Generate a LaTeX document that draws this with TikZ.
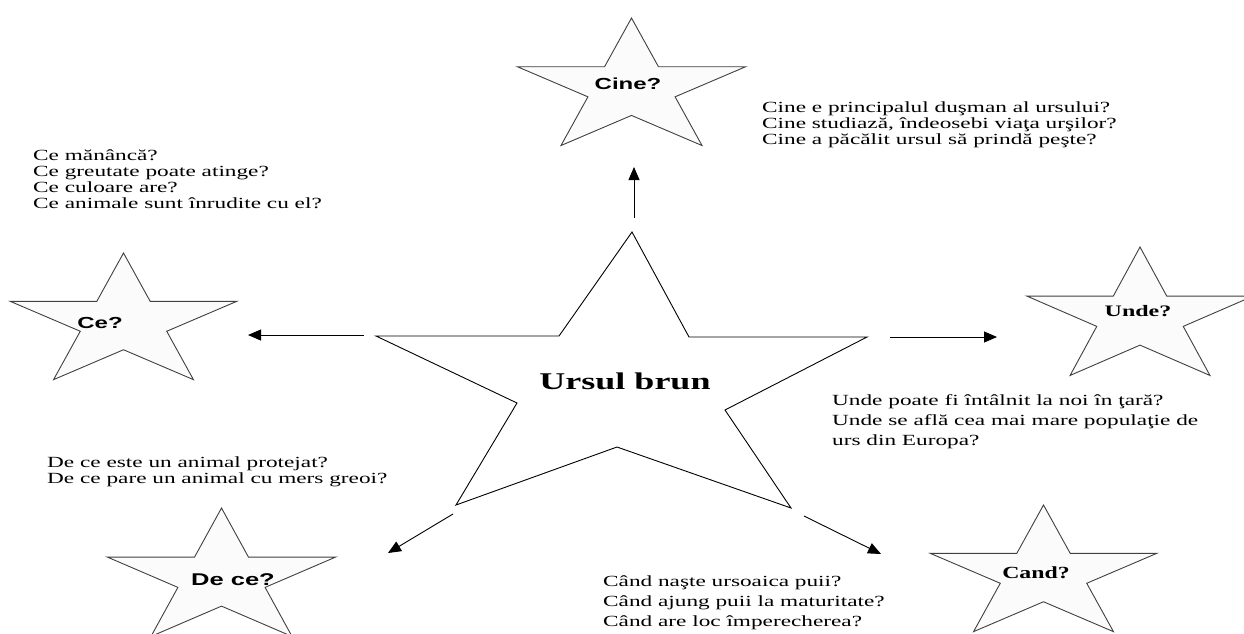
\documentclass[tikz,border=0pt]{standalone}
\usepackage{fontspec}
\setmainfont{Liberation Serif}
\newfontfamily\lsans{Liberation Sans}
\usepackage{graphicx}
\usetikzlibrary{arrows.meta}
\newcommand\sx[1]{\scalebox{1.5}[1]{#1}}
\newcommand\qstar[4]{%
  \begin{scope}[shift={(#1,#2)},xscale=#3,yscale=-#4]
    \draw[starline] (90:1) -- (126:0.382) -- (162:1) -- (198:0.382) -- (234:1)
      -- (270:0.382) -- (306:1) -- (342:0.382) -- (18:1) -- (54:0.382) -- cycle;
  \end{scope}}
\begin{document}
\begin{tikzpicture}[x=1pt,y=-1pt,
  starline/.style={draw=black!75,line width=0.9pt,fill=white!98.5!black},
  mainstar/.style={draw=black,line width=0.9pt,fill=white},
  arr/.style={line width=0.9pt,-{Triangle[length=13pt,width=11pt]}},
  qtext/.style={inner sep=0pt,align=left,font=\fontsize{15.5}{15.7}\selectfont},
  qtextw/.style={inner sep=0pt,align=left,font=\fontsize{15.5}{20}\selectfont},
  sanslbl/.style={inner sep=1pt,font=\lsans\bfseries\fontsize{16}{16}\selectfont},
  seriflbl/.style={inner sep=1pt,font=\bfseries\fontsize{16}{16}\selectfont}]
\useasboundingbox (0,0) rectangle (1244,633);
\clip (0,0) rectangle (1244,633);
\fill[white] (0,0) rectangle (1244,633);

% central star
\draw[mainstar] (632,232) -- (689,337) -- (867,337) -- (725,410) -- (791,508)
  -- (617,447) -- (456,505) -- (517,403) -- (376,336) -- (559,336) -- cycle;
\node[inner sep=1pt,font=\bfseries\fontsize{24}{24}\selectfont] (main) at (625,381) {\sx{Ursul brun}};

% small stars
\qstar{631.5}{88.5}{120}{70.5}
\node[sanslbl] (cine) at (628,84) {\sx{Cine?}};
\qstar{123.5}{323}{119}{70}
\node[sanslbl] (ce) at (100,323) {\sx{Ce?}};
\qstar{1140}{318}{119}{71}
\node[seriflbl] (unde) at (1138,311) {\sx{Unde?}};
\qstar{221.5}{579}{120}{71}
\node[sanslbl,font=\lsans\bfseries\fontsize{17}{17}\selectfont] (dece) at (233,580) {\sx{De ce?}};
\qstar{1043.5}{575}{119}{70}
\node[seriflbl,font=\bfseries\fontsize{17}{17}\selectfont] (cand) at (1036,573) {\scalebox{1.4}[1]{Cand?}};

% arrows
\coordinate (a1s) at (634,218); \coordinate (a1e) at (634,167);
\coordinate (a2s) at (364,335); \coordinate (a2e) at (248,335);
\coordinate (a3s) at (890,337); \coordinate (a3e) at (997,337);
\coordinate (a4s) at (453,514); \coordinate (a4e) at (388,553);
\coordinate (a5s) at (804,516); \coordinate (a5e) at (881,554);
\draw[arr] (a1s) -- (a1e);
\draw[arr] (a2s) -- (a2e);
\draw[arr] (a3s) -- (a3e);
\draw[arr] (a4s) -- (a4e);
\draw[arr] (a5s) -- (a5e);

% question texts
\node[qtext,anchor=north west] (tcine) at (762,102)
  {\sx{Cine e principalul duşman al ursului?}\\
   \sx{Cine studiază, îndeosebi viaţa urşilor?}\\
   \sx{Cine a păcălit ursul să prindă peşte?}};
\node[qtext,anchor=north west] (tce) at (33,150)
  {\sx{Ce mănâncă?}\\
   \sx{Ce greutate poate atinge?}\\
   \sx{Ce culoare are?}\\
   \sx{Ce animale sunt înrudite cu el?}};
\node[qtextw,anchor=north west] (tunde) at (832,394)
  {\sx{Unde poate fi întâlnit la noi în ţară?}\\
   \sx{Unde se află cea mai mare populaţie de}\\
   \sx{urs din Europa?}};
\node[qtext,anchor=north west] (tdece) at (47,457)
  {\sx{De ce este un animal protejat?}\\
   \sx{De ce pare un animal cu mers greoi?}};
\node[qtextw,anchor=north west] (tcand) at (603,576)
  {\sx{Când naşte ursoaica puii?}\\
   \sx{Când ajung puii la maturitate?}\\
   \sx{Când are loc împerecherea?}};
\end{tikzpicture}
\end{document}
